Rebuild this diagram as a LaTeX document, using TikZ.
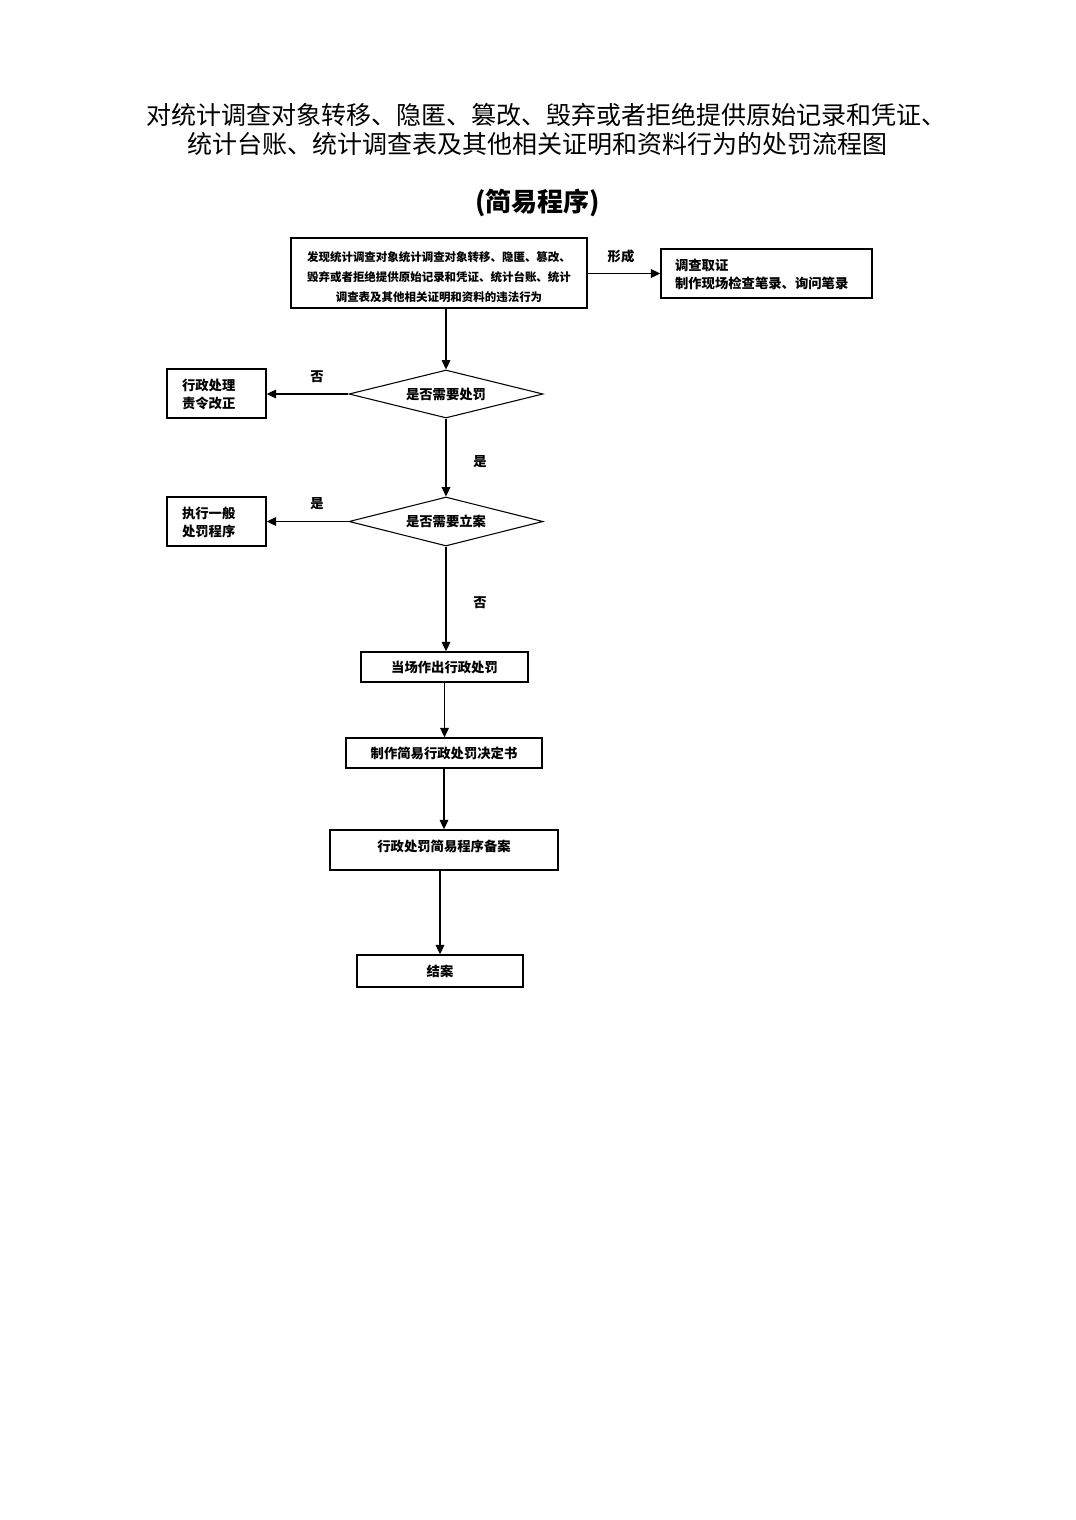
\documentclass[tikz,border=0pt]{standalone}
\usepackage{fontspec}
\setmainfont{Noto Sans CJK SC}
\newfontfamily\cjk{Noto Sans CJK SC}
\usetikzlibrary{arrows.meta,shapes.geometric}
\newcommand{\dnc}[2][2pt]{\raisebox{-#1}[\height][\depth]{\begin{tabular}{@{}c@{}}#2\end{tabular}}}
\newcommand{\dnl}[2][2pt]{\raisebox{-#1}[\height][\depth]{\begin{tabular}{@{}l@{}}#2\end{tabular}}}
\begin{document}
\begin{tikzpicture}[x=0.75pt,y=-0.75pt,
  box/.style={draw,line width=1.1pt,inner sep=0pt,font=\cjk\bfseries\fontsize{10}{13.5}\selectfont},
  dia/.style={draw,diamond,line width=0.8pt,inner sep=0pt,shape aspect=4,font=\cjk\bfseries\fontsize{10}{13.5}\selectfont},
  lbl/.style={inner sep=0pt,font=\cjk\bfseries\fontsize{10}{12}\selectfont},
  ttl/.style={inner sep=0pt,font=\cjk\fontsize{18.75}{21.75}\selectfont},
  arr/.style={line width=0.8pt,-{Triangle[length=7pt,width=6.5pt]}}]
\useasboundingbox (0,0) rectangle (1075,1520);
\node[ttl] (title1) at (546,115) {对统计调查对象转移、隐匿、篡改、毁弃或者拒绝提供原始记录和凭证、};
\node[ttl] (title2) at (537.5,144) {统计台账、统计调查表及其他相关证明和资料行为的处罚流程图};
\node[font=\cjk\bfseries\fontsize{19.5}{22}\selectfont] (sub) at (537.5,203) {(简易程序)};
\node[box,minimum width=222pt,minimum height=52.5pt,font=\cjk\bfseries\fontsize{8.6}{15}\selectfont] (b1) at (439,273)
  {\dnc[3pt]{发现统计调查对象统计调查对象转移、隐匿、篡改、\\毁弃或者拒绝提供原始记录和凭证、统计台账、统计\\调查表及其他相关证明和资料的违法行为}};
\node[box,minimum width=158.25pt,minimum height=36.75pt,text width=137.25pt,align=left] (b2) at (766.5,273.5)
  {\dnl[1.5pt]{调查取证\\制作现场检查笔录、询问笔录}};
\node[dia,minimum width=145.5pt,minimum height=36pt] (d1) at (446,394) {是否需要处罚};
\node[box,minimum width=74.25pt,minimum height=36.75pt,text width=51.75pt,align=left] (b3) at (216.5,393.5)
  {\dnl[1.5pt]{行政处理\\责令改正}};
\node[dia,minimum width=145.5pt,minimum height=36.75pt] (d2) at (446,521.5) {是否需要立案};
\node[box,minimum width=74.25pt,minimum height=36.75pt,text width=51.75pt,align=left] (b4) at (216.5,521.5)
  {\dnl[1.5pt]{执行一般\\处罚程序}};
\node[box,minimum width=125.25pt,minimum height=22.5pt] (b5) at (444.5,667) {当场作出行政处罚};
\node[box,minimum width=147pt,minimum height=22.5pt] (b6) at (444,753) {制作简易行政处罚决定书};
\node[box,minimum width=171pt,minimum height=30pt] (b7) at (444,850) {\raisebox{3pt}[\height][\depth]{行政处罚简易程序备案}};
\node[box,minimum width=124.5pt,minimum height=24pt] (b8) at (440,971) {结案};
\draw[arr] (b1.east |- b2.west) -- (b2.west);
\node[lbl] (l1) at (621,256) {形成};
\draw[arr] (d1.north |- b1.south) -- (d1.north);
\draw[arr] (d1.west) -- (d1.west -| b3.east);
\node[lbl] (l2) at (317,377) {否};
\draw[arr] (d1.south) -- (d2.north);
\node[lbl] (l3) at (480,462) {是};
\draw[arr] (d2.west) -- (d2.west -| b4.east);
\node[lbl] (l4) at (317,504) {是};
\draw[arr] (d2.south) -- (d2.south |- b5.north);
\node[lbl] (l5) at (480,603) {否};
\draw[arr] (b5.south) -- (b5.south |- b6.north);
\draw[arr] (b6.south) -- (b6.south |- b7.north);
\draw[arr] (b8.north |- b7.south) -- (b8.north);
\end{tikzpicture}
\end{document}
